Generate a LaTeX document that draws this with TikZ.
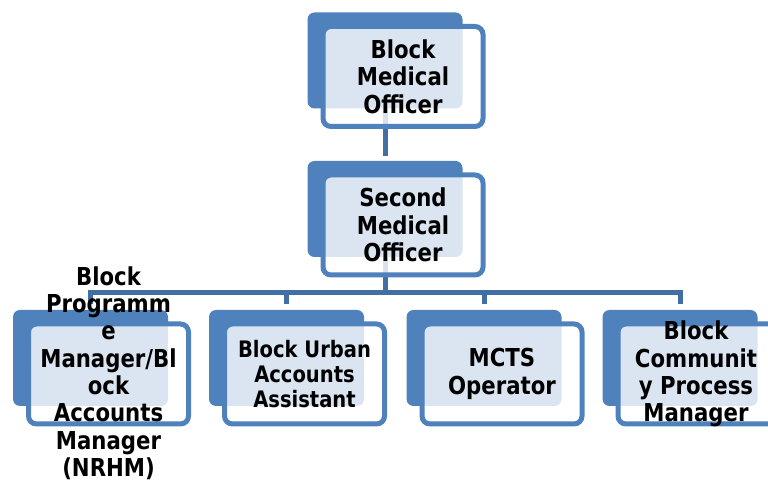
\documentclass[tikz,border=0pt]{standalone}
\usepackage{fontspec}
\setmainfont{DejaVu Sans}
\newfontfamily\boxfont{DejaVu Sans}[FakeStretch=0.86]
\definecolor{boxblue}{HTML}{4F81BD}
\definecolor{linkblue}{HTML}{416FA4}
\tikzset{
  backbox/.style={fill=boxblue, draw=none, rounded corners=7pt,
    minimum width=155pt, minimum height=96pt, inner sep=0pt, outer sep=0pt},
  frontbox/.style={fill=white, fill opacity=0.8, draw=boxblue, draw opacity=1,
    line width=5pt, rounded corners=8pt, minimum width=160pt,
    minimum height=100pt, inner sep=0pt, outer sep=0pt},
  label/.style={align=center, text=black, inner sep=0pt,
    font=\boxfont\fontsize{24.7pt}{27.3pt}\selectfont\bfseries},
  smalllabel/.style={label, font=\boxfont\fontsize{22.7pt}{25pt}\selectfont\bfseries},
  link/.style={draw=linkblue, line width=5pt, line join=miter},
}
\begin{document}
\begin{tikzpicture}[x=1pt, y=1pt]
  \useasboundingbox (0,0) rectangle (768,484);
  \clip (0,0) rectangle (768,484);

  % panel anchors (centres of the back panels)
  \coordinate (topC) at (385,423.5);
  \coordinate (secC) at (385,275);
  \coordinate (b1C) at (90.5,126);
  \coordinate (b2C) at (286.5,126);
  \coordinate (b3C) at (484,126);
  \coordinate (b4C) at (680,126);

  % connectors, drawn first so the panels cover them
  \coordinate (busy) at (0,191.5);
  \coordinate (j0) at ([yshift=53pt]secC);
  \coordinate (j1) at ([yshift=53.5pt]b1C);
  \coordinate (j2) at ([yshift=53.5pt]b2C);
  \coordinate (j3) at ([yshift=53.5pt]b3C);
  \coordinate (j4) at ([yshift=53.5pt]b4C);
  \draw[link] (topC) -- (j0);
  \draw[link] (j1) -- (j1 |- busy) -- (j4 |- busy) -- (j4);
  \draw[link] (secC) -- (secC |- busy);
  \draw[link] (j2 |- busy) -- (j2);
  \draw[link] (j3 |- busy) -- (j3);

  % back panels
  \node[backbox] (topB) at (topC) {};
  \node[backbox] (secB) at (secC) {};
  \node[backbox] (b1B) at (b1C) {};
  \node[backbox] (b2B) at (b2C) {};
  \node[backbox] (b3B) at (b3C) {};
  \node[backbox] (b4B) at (b4C) {};

  % front panels
  \node[frontbox] (topF) at ([shift={(18,-16)}]topB.center) {};
  \node[frontbox] (secF) at ([shift={(18,-16)}]secB.center) {};
  \node[frontbox] (b1F) at ([shift={(18,-16)}]b1B.center) {};
  \node[frontbox] (b2F) at ([shift={(18,-16)}]b2B.center) {};
  \node[frontbox] (b3F) at ([shift={(18,-16)}]b3B.center) {};
  \node[frontbox] (b4F) at ([shift={(18,-16)}]b4B.center) {};

  % titles
  \node[label] (topT) at (topF.center) {Block\\Medical\\Officer};
  \node[label] (secT) at (secF.center) {Second\\Medical\\Officer};
  \node[label] (b1T) at ([yshift=1pt]b1F.center)
    {Block\\Programm\\e\\Manager/Bl\\ock\\Accounts\\Manager\\(NRHM)};
  \node[smalllabel] (b2T) at (b2F.center) {Block Urban\\Accounts\\Assistant};
  \node[label] (b3T) at (b3F.center) {MCTS\\Operator};
  \node[label] (b4T) at ([xshift=-2pt]b4F.center) {Block\\Communit\\y Process\\Manager};
\end{tikzpicture}
\end{document}
